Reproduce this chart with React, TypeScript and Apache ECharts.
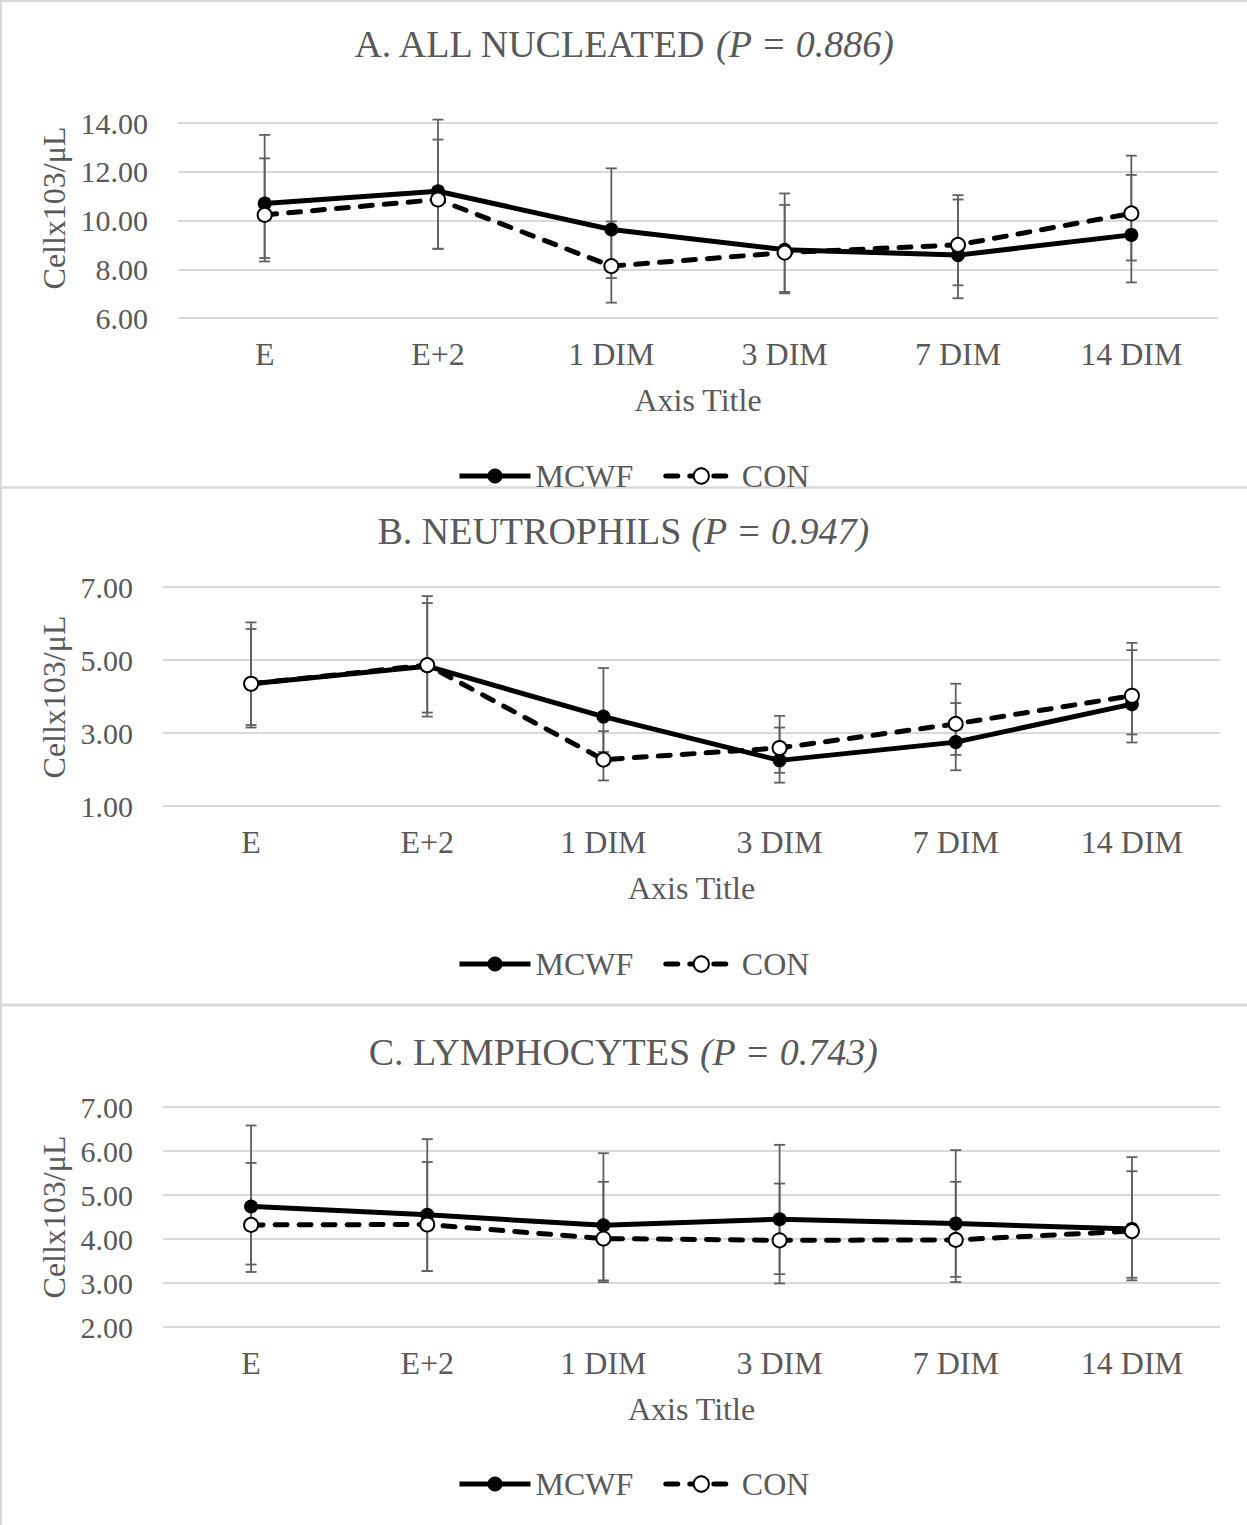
import React, { useEffect, useRef } from "react";
import * as echarts from "echarts";

const categories = ["E", "E+2", "1 DIM", "3 DIM", "7 DIM", "14 DIM"];
const seriesNames = ["MCWF", "CON"];
const titlesMain = ["A. ALL NUCLEATED ", "B. NEUTROPHILS ", "C. LYMPHOCYTES "];
const titlesP = ["(P = 0.886)", "(P = 0.947)", "(P = 0.743)"];
const yAxisTitle = "Cellx103/μL";
const xAxisTitle = "Axis Title";

// Panel A
const mcwfA = [10.7, 11.2, 9.63, 8.8, 8.58, 9.41];
const conA = [10.23, 10.86, 8.13, 8.68, 9.0, 10.29];
const mcwfALow = [8.46, 8.84, 7.64, 7.07, 6.81, 7.46];
const mcwfAHigh = [13.51, 14.14, 12.14, 11.11, 10.86, 11.87];
const conALow = [8.32, 8.84, 6.63, 7.01, 7.34, 8.36];
const conAHigh = [12.55, 13.32, 9.96, 10.64, 11.04, 12.66];

// Panel B
const mcwfB = [4.35, 4.83, 3.45, 2.25, 2.75, 3.79];
const conB = [4.35, 4.86, 2.27, 2.59, 3.25, 4.02];
const mcwfBLow = [3.15, 3.45, 2.48, 1.64, 1.98, 2.74];
const mcwfBHigh = [6.03, 6.75, 4.78, 3.15, 3.82, 5.27];
const conBLow = [3.22, 3.56, 1.7, 1.91, 2.4, 2.96];
const conBHigh = [5.85, 6.56, 3.05, 3.47, 4.35, 5.47];

// Panel C
const mcwfC = [4.74, 4.55, 4.31, 4.45, 4.35, 4.23];
const conC = [4.32, 4.33, 4.01, 3.97, 3.98, 4.18];
const mcwfCLow = [3.42, 3.27, 3.06, 3.2, 3.14, 3.12];
const mcwfCHigh = [6.58, 6.27, 5.95, 6.14, 6.02, 5.86];
const conCLow = [3.25, 3.27, 3.02, 2.99, 3.02, 3.06];
const conCHigh = [5.73, 5.75, 5.3, 5.26, 5.3, 5.54];

// y axis ranges
const yMins = [6, 1, 2];
const yMaxs = [14, 7, 7];
const yIntervals = [2, 2, 1];

const FONT = "'Liberation Serif', 'Times New Roman', serif";
const TXT = "#595959";
const GRID = "#d9d9d9";
const ERR = "#606060";

export default function App() {
  const ref = useRef<HTMLDivElement>(null);

  useEffect(() => {
    if (!ref.current) return;
    const chart = echarts.init(ref.current, undefined, { renderer: "svg" });

    const panels = [
      { mcwf: mcwfA, con: conA, ml: mcwfALow, mh: mcwfAHigh, cl: conALow, ch: conAHigh },
      { mcwf: mcwfB, con: conB, ml: mcwfBLow, mh: mcwfBHigh, cl: conBLow, ch: conBHigh },
      { mcwf: mcwfC, con: conC, ml: mcwfCLow, mh: mcwfCHigh, cl: conCLow, ch: conCHigh },
    ];

    const grids = [
      { left: 178, right: 29, top: 123, height: 195 },
      { left: 163, right: 27, top: 587, height: 219 },
      { left: 163, right: 27, top: 1107, height: 220 },
    ];
    const titleTops = [20, 507, 1028];
    const legendTops = [455, 943, 1463];
    const yNameY = [208, 697, 1217];

    const errRender = (params: any, api: any) => {
      const x = api.value(0);
      const lo = api.coord([x, api.value(1)]);
      const hi = api.coord([x, api.value(2)]);
      const hw = 5.5;
      const st = { stroke: ERR, lineWidth: 1.8 };
      return {
        type: "group",
        children: [
          { type: "line", shape: { x1: lo[0], y1: lo[1], x2: hi[0], y2: hi[1] }, style: st },
          { type: "line", shape: { x1: lo[0] - hw, y1: lo[1], x2: lo[0] + hw, y2: lo[1] }, style: st },
          { type: "line", shape: { x1: hi[0] - hw, y1: hi[1], x2: hi[0] + hw, y2: hi[1] }, style: st },
        ],
      };
    };

    const series: any[] = [];
    panels.forEach((p, i) => {
      series.push({
        type: "custom",
        name: "errM" + i,
        xAxisIndex: i,
        yAxisIndex: i,
        renderItem: errRender,
        encode: { x: 0, y: [1, 2] },
        data: categories.map((_, k) => [k, p.ml[k], p.mh[k]]),
        z: 1,
        silent: true,
      });
      series.push({
        type: "custom",
        name: "errC" + i,
        xAxisIndex: i,
        yAxisIndex: i,
        renderItem: errRender,
        encode: { x: 0, y: [1, 2] },
        data: categories.map((_, k) => [k, p.cl[k], p.ch[k]]),
        z: 1,
        silent: true,
      });
      series.push({
        type: "line",
        name: seriesNames[0],
        xAxisIndex: i,
        yAxisIndex: i,
        data: p.mcwf,
        symbol: "circle",
        symbolSize: 14,
        showAllSymbol: true,
        lineStyle: { color: "#000", width: 5 },
        itemStyle: { color: "#000", borderColor: "#000", borderWidth: 0 },
        z: 3,
      });
      series.push({
        type: "line",
        name: seriesNames[1],
        xAxisIndex: i,
        yAxisIndex: i,
        data: p.con,
        symbol: "circle",
        symbolSize: 14,
        showAllSymbol: true,
        lineStyle: { color: "#000", width: 5, type: [12, 12], cap: "round" },
        itemStyle: { color: "#fff", borderColor: "#000", borderWidth: 2 },
        z: 4,
      });
    });

    const option: any = {
      animation: false,
      backgroundColor: "#ffffff",
      title: titlesMain.map((t, i) => ({
        text: t + "{i|" + titlesP[i] + "}",
        left: "center",
        top: titleTops[i],
        textStyle: {
          fontFamily: FONT,
          fontSize: 38,
          fontWeight: "normal",
          color: TXT,
          rich: {
            i: { fontFamily: FONT, fontSize: 38, fontStyle: "italic", color: TXT },
          },
        },
      })),
      legend: legendTops.map((t) => ({
        data: seriesNames,
        top: t,
        left: 452,
        itemWidth: 71,
        itemHeight: 19,
        itemGap: 30,
        selectedMode: false,
        lineStyle: { width: 5 },
        textStyle: { fontFamily: FONT, fontSize: 32, color: TXT },
      })),
      grid: grids.map((g) => ({ ...g, containLabel: false })),
      xAxis: grids.map((_, i) => ({
        type: "category",
        gridIndex: i,
        data: categories,
        boundaryGap: true,
        axisLine: { show: false },
        axisTick: { show: false },
        axisLabel: { fontFamily: FONT, fontSize: 32, color: TXT, margin: 20 },
        name: xAxisTitle,
        nameLocation: "middle",
        nameGap: 66,
        nameTextStyle: { fontFamily: FONT, fontSize: 32, color: TXT },
      })),
      yAxis: grids.map((_, i) => ({
        type: "value",
        gridIndex: i,
        min: yMins[i],
        max: yMaxs[i],
        interval: yIntervals[i],
        axisLine: { show: false },
        axisTick: { show: false },
        axisLabel: {
          fontFamily: FONT,
          fontSize: 30,
          color: TXT,
          margin: 30,
          formatter: (v: number) => v.toFixed(2),
        },
        splitLine: { show: true, lineStyle: { color: GRID, width: 2 } },
      })),
      graphic: [
        { type: "line", shape: { x1: 1, y1: 0, x2: 1, y2: 1525 }, style: { stroke: GRID, lineWidth: 2 } },
        { type: "line", shape: { x1: 0, y1: 1, x2: 1247, y2: 1 }, style: { stroke: GRID, lineWidth: 2 } },
        { type: "line", shape: { x1: 0, y1: 487.5, x2: 1247, y2: 487.5 }, style: { stroke: GRID, lineWidth: 2.5 } },
        { type: "line", shape: { x1: 0, y1: 1005, x2: 1247, y2: 1005 }, style: { stroke: GRID, lineWidth: 3 } },
        ...yNameY.map((y) => ({
          type: "text",
          x: 54,
          y: y,
          rotation: Math.PI / 2,
          style: {
            text: yAxisTitle,
            fontFamily: FONT,
            fontSize: 32,
            fill: TXT,
            align: "center",
            verticalAlign: "middle",
          },
        })),
      ],
      series,
    };

    chart.setOption(option);
    return () => chart.dispose();
  }, []);

  return (
    <div
      ref={ref}
      style={{ position: "absolute", left: 0, top: 0, width: 1247, height: 1525, background: "#fff" }}
    />
  );
}
